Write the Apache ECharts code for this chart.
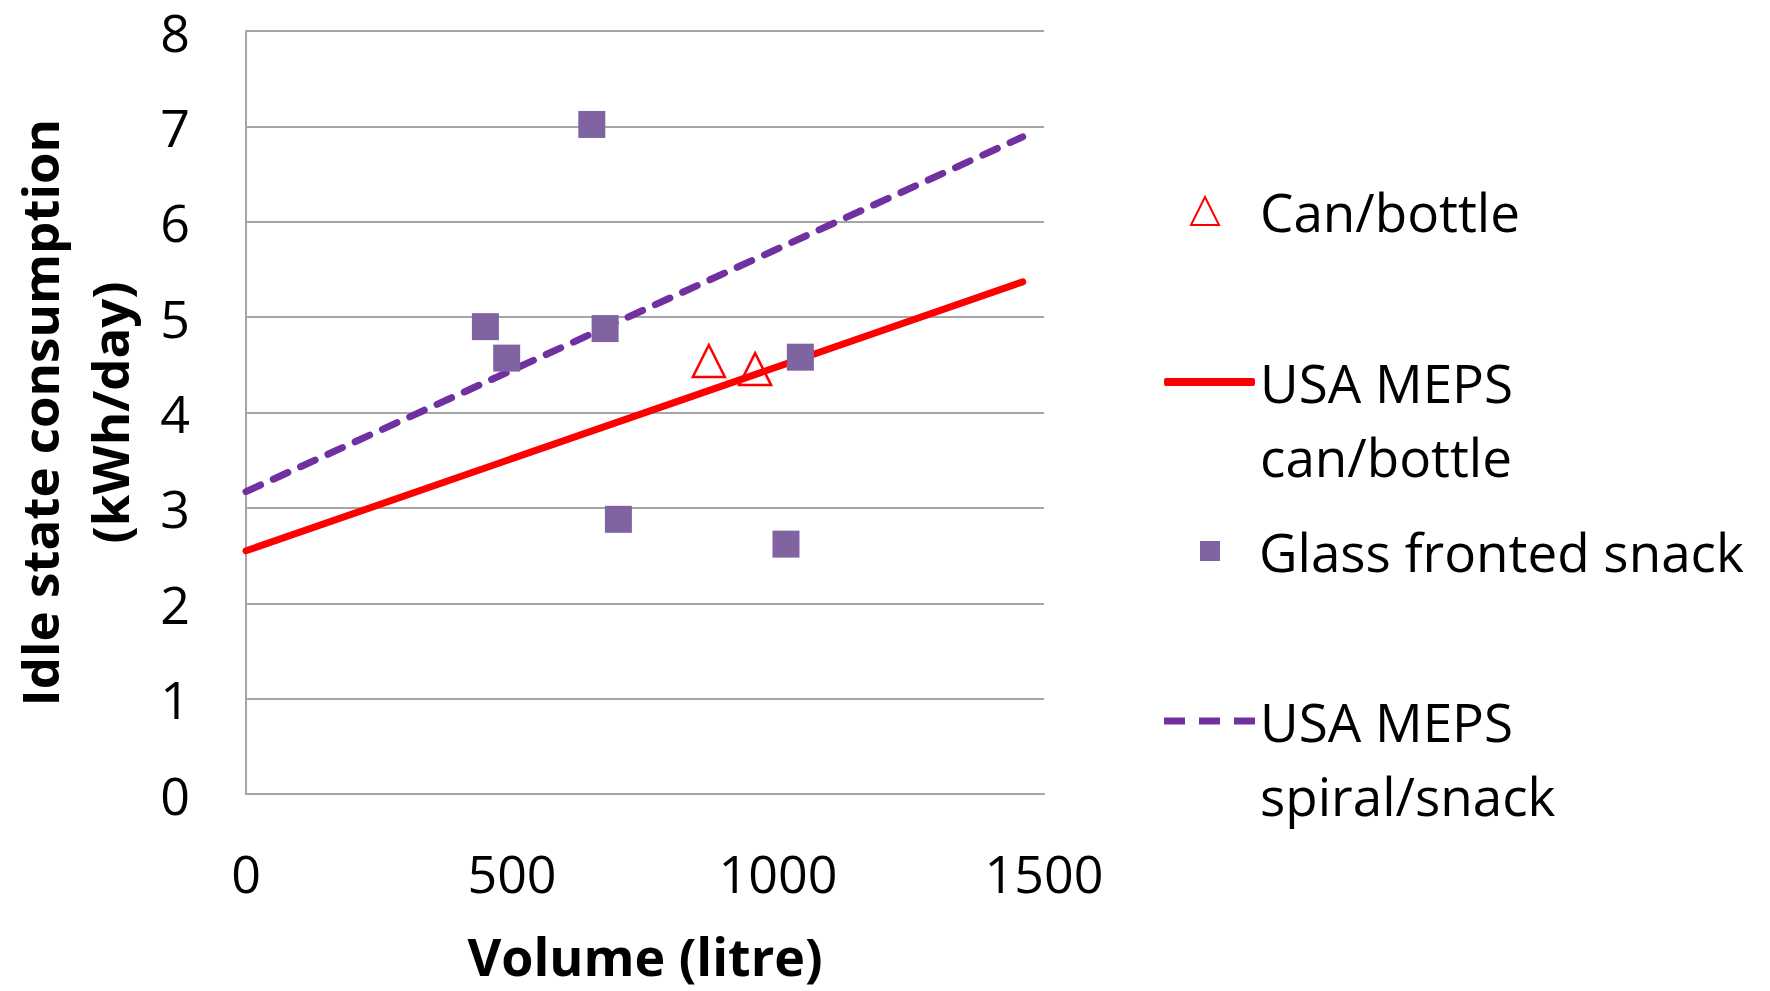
<!DOCTYPE html>
<html>
<head>
<meta charset="utf-8">
<script src="https://cdn.jsdelivr.net/npm/echarts@6/dist/echarts.min.js"></script>
<style>
    html, body { margin: 0; padding: 0; background: #fff; }
    #chart { width: 1770px; height: 991px; }
</style>
</head>
<body>
<div id="chart"></div>
<script>
// 读图估计的数据
var canX = [870, 957];
var canY = [4.54, 4.455];
var glassX = [650, 450, 490, 675, 700, 1015, 1042];
var glassY = [7.02, 4.9, 4.57, 4.88, 2.88, 2.62, 4.58];
var mepsCanX = [0, 1460];
var mepsCanY = [2.55, 5.37];
var mepsSpiralX = [0, 1460];
var mepsSpiralY = [3.17, 6.89];
var xTicks = [0, 500, 1000, 1500];

function pairs(xs, ys) {
    var out = [];
    for (var i = 0; i < xs.length; i++) {
        out.push([xs[i], ys[i]]);
    }
    return out;
}

var font = 'Open Sans';
var chart = echarts.init(document.getElementById('chart'), null, {renderer: 'svg'});

var legendText = {fontFamily: font, fontSize: 53, color: '#000', lineHeight: 60};

chart.setOption({
    animation: false,
    backgroundColor: '#fff',
    grid: {left: 246, right: 726, top: 31, bottom: 197, containLabel: false, outerBoundsMode: 'none'},
    xAxis: {
        type: 'value',
        min: xTicks[0],
        max: xTicks[xTicks.length - 1],
        interval: 500,
        name: 'Volume (litre)',
        nameLocation: 'middle',
        nameGap: 135,
        nameTextStyle: {fontFamily: font, fontSize: 52, fontWeight: 'bold', color: '#000'},
        axisLine: {show: true, lineStyle: {color: '#a6a6a6', width: 2}},
        axisTick: {show: false},
        splitLine: {show: false},
        axisLabel: {
            fontFamily: font, fontSize: 52, color: '#000', margin: 52,
            formatter: function (v) { return String(v); }
        }
    },
    yAxis: {
        type: 'value',
        min: 0,
        max: 8,
        interval: 1,
        name: 'Idle state consumption\n(kWh/day)',
        nameLocation: 'middle',
        nameGap: 102,
        nameTextStyle: {fontFamily: font, fontSize: 51, fontWeight: 'bold', color: '#000', lineHeight: 70},
        axisLine: {show: true, lineStyle: {color: '#a6a6a6', width: 2}},
        axisTick: {show: false},
        splitLine: {show: true, lineStyle: {color: '#a6a6a6', width: 2}},
        axisLabel: {fontFamily: font, fontSize: 52, color: '#000', margin: 56, lineHeight: 30}
    },
    legend: [
        {
            data: ['Can/bottle'], left: 1185, top: 176, orient: 'vertical',
            itemWidth: 28, itemHeight: 28,
            textStyle: echarts.util.extend({padding: [0, 0, 0, 36]}, legendText)
        },
        {
            data: [{name: 'USA MEPS can/bottle', icon: 'roundRect'}], left: 1159, top: 347, orient: 'vertical',
            itemWidth: 91, itemHeight: 8,
            formatter: function () { return 'USA MEPS'; },
            textStyle: echarts.util.extend({padding: [0, 0, 0, 0]}, legendText)
        },
        {
            data: ['Glass fronted snack'], left: 1195, top: 516, orient: 'vertical',
            itemWidth: 20, itemHeight: 20,
            textStyle: echarts.util.extend({padding: [0, 0, 0, 34]}, legendText)
        },
        {
            data: [{name: 'USA MEPS spiral/snack', icon: 'path://M0,0h21v7h-21z M35,0h21v7h-21z M70,0h21v7h-21z'}],
            left: 1159, top: 686, orient: 'vertical',
            itemWidth: 91, itemHeight: 7,
            formatter: function () { return 'USA MEPS'; },
            textStyle: echarts.util.extend({padding: [0, 0, 0, 0]}, legendText)
        }
    ],
    graphic: [
        {type: 'text', left: 1260, top: 430, style: {text: 'can/bottle', font: '53px "Open Sans"', fill: '#000'}},
        {type: 'text', left: 1260, top: 769, style: {text: 'spiral/snack', font: '53px "Open Sans"', fill: '#000'}}
    ],
    series: [
        {
            name: 'Can/bottle',
            type: 'scatter',
            symbol: 'triangle',
            symbolSize: 32,
            z: 5,
            itemStyle: {color: 'rgba(255,255,255,0)', borderColor: '#ff0000', borderWidth: 2.5, opacity: 1},
            data: pairs(canX, canY)
        },
        {
            name: 'USA MEPS can/bottle',
            type: 'line',
            symbol: 'none',
            z: 2,
            lineStyle: {color: '#ff0000', width: 7, cap: 'round'},
            itemStyle: {color: '#ff0000'},
            data: pairs(mepsCanX, mepsCanY)
        },
        {
            name: 'Glass fronted snack',
            type: 'scatter',
            symbol: 'rect',
            symbolSize: 27,
            z: 4,
            itemStyle: {color: '#8064a2', opacity: 1},
            data: pairs(glassX, glassY)
        },
        {
            name: 'USA MEPS spiral/snack',
            type: 'line',
            symbol: 'none',
            z: 2,
            lineStyle: {color: '#7030a0', width: 7, type: [16, 14], cap: 'round'},
            itemStyle: {color: '#7030a0'},
            data: pairs(mepsSpiralX, mepsSpiralY)
        }
    ]
});

window.onresize = function () {
    chart.resize();
};
</script>
</body>
</html>
